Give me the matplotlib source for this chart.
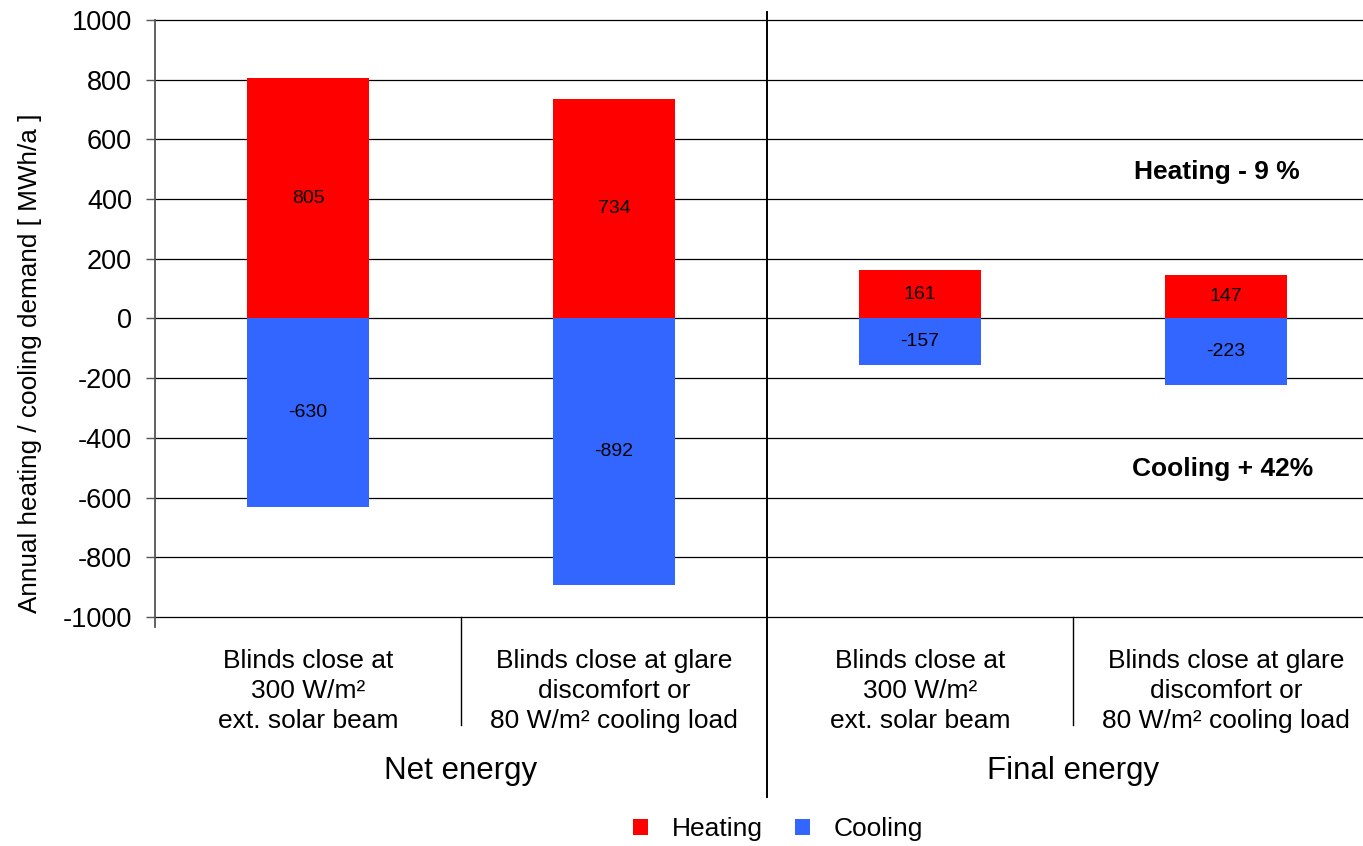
import matplotlib
matplotlib.use("Agg")
import matplotlib.pyplot as plt
from matplotlib.patches import Patch
from matplotlib.lines import Line2D
import matplotlib.transforms as mtransforms

plt.rcParams['font.family'] = ['Liberation Sans', 'DejaVu Sans']

# Data
categories = [
    "Blinds close at\n300 W/m\u00b2\next. solar beam",
    "Blinds close at glare\ndiscomfort or\n80 W/m\u00b2 cooling load",
    "Blinds close at\n300 W/m\u00b2\next. solar beam",
    "Blinds close at glare\ndiscomfort or\n80 W/m\u00b2 cooling load",
]
groups = ["Net energy", "Final energy"]
heating = [805, 734, 161, 147]
cooling = [-630, -892, -157, -223]
yticks = [-1000, -800, -600, -400, -200, 0, 200, 400, 600, 800, 1000]
notes = ["Heating - 9 %", "Cooling + 42%"]
note_pos = [(2.97, 490), (2.99, -505)]

RED = "#FF0000"
BLUE = "#3366FF"

W, H = 1363, 846
fig = plt.figure(figsize=(W / 100, H / 100), dpi=100)
ax = fig.add_axes([155 / W, (H - 617) / H, 1224 / W, 597 / H])

x = list(range(len(categories)))
ax.bar(x, heating, width=0.4, color=RED, zorder=3)
ax.bar(x, cooling, width=0.4, color=BLUE, zorder=3)

for xi, hv, cv in zip(x, heating, cooling):
    ax.text(xi, hv / 2, f"{hv}", ha="center", va="center", fontsize=14, zorder=4)
    ax.text(xi, cv / 2, f"{cv}", ha="center", va="center", fontsize=14, zorder=4)

ax.set_xlim(-0.5, len(categories) - 0.5)
ax.set_ylim(-1000, 1000)
ax.set_yticks(yticks)
ax.set_yticklabels([str(v) for v in yticks], fontsize=19.5)
ax.yaxis.grid(True, color="black", linewidth=0.9, zorder=0)
for gl in ax.get_ygridlines():
    gl.set_clip_on(False)
ax.set_axisbelow(True)
ax.tick_params(axis="y", length=6.5, width=1.0, color="#555555", pad=10)
ax.tick_params(axis="x", bottom=False, labelbottom=False)
for s in ["top", "right", "bottom", "left"]:
    ax.spines[s].set_visible(False)

# Y axis title
fig.text(30 / W, (H - 363) / H, "Annual heating / cooling demand [ MWh/a ]",
         rotation=90, ha="center", va="center", fontsize=18.8)

# Left axis line, extending slightly below the lowest tick
left_x = 155
fig.add_artist(Line2D([left_x / W, left_x / W], [(H - 20) / H, (H - 627) / H],
                      transform=fig.transFigure, color="#555555", linewidth=1.3))

# Category separators below the plot and the central group divider
def vline(xdata, y_top_px, y_bot_px, lw):
    trans = mtransforms.blended_transform_factory(ax.transData, fig.transFigure)
    fig.add_artist(Line2D([xdata, xdata], [(H - y_top_px) / H, (H - y_bot_px) / H],
                          transform=trans, color="black", linewidth=lw))

vline(0.5, 617, 725, 1.0)
vline(2.5, 617, 725, 1.0)
vline(1.5, 12, 797, 1.4)

# Category labels
lab_trans = mtransforms.blended_transform_factory(ax.transData, fig.transFigure)
for xi, lab in zip(x, categories):
    fig.text(xi, (H - 691) / H, lab, transform=lab_trans, ha="center", va="center",
             fontsize=19, linespacing=1.3)

# Group labels
for gi, g in enumerate(groups):
    fig.text(2 * gi + 0.5, (H - 771) / H, g, transform=lab_trans, ha="center",
             va="center", fontsize=22.5)

# Notes
for txt, (nx, ny) in zip(notes, note_pos):
    ax.text(nx, ny, txt, ha="center", va="center", fontsize=19, fontweight="bold", zorder=4)

# Legend
handles = [Patch(facecolor=RED, edgecolor="none", label="Heating"),
           Patch(facecolor=BLUE, edgecolor="none", label="Cooling")]
fig.legend(handles=handles, loc="center", bbox_to_anchor=(778 / W, (H - 829) / H),
           ncol=2, frameon=False, fontsize=19, handlelength=0.57, handleheight=0.57,
           handletextpad=0.9, columnspacing=1.2, borderpad=0)

fig.savefig("out.png", dpi=100)
